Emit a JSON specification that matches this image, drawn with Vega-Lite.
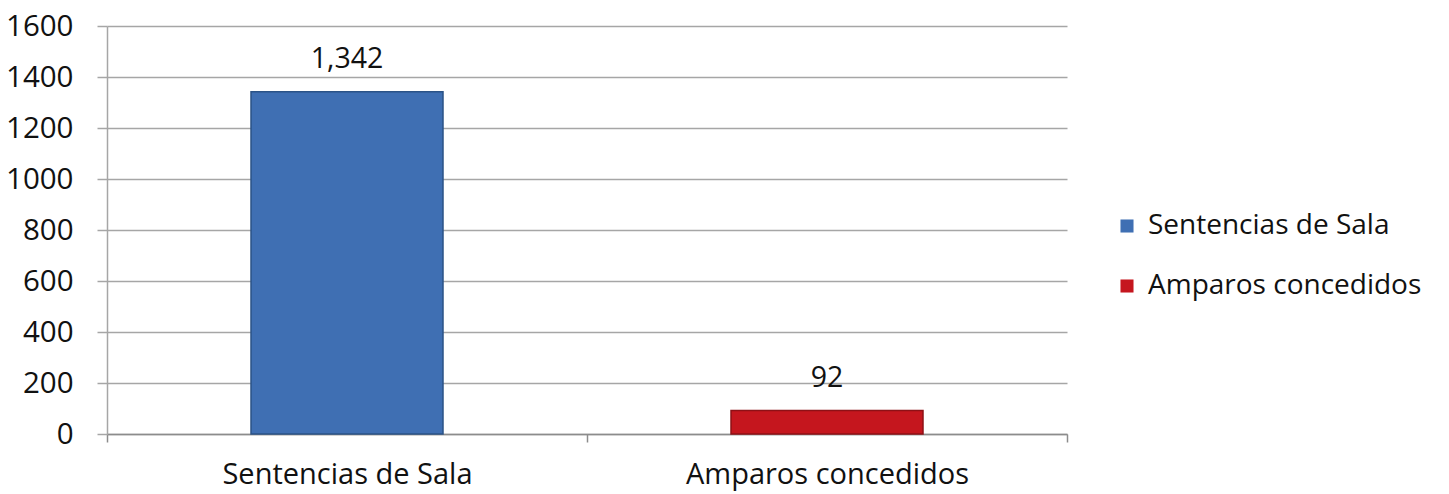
{
  "$schema": "https://vega.github.io/schema/vega-lite/v6.json",
  "autosize": {"type": "none"},
  "width": 960,
  "height": 408,
  "padding": {"left": 107, "top": 26, "right": 382, "bottom": 60},
  "background": "white",
  "data": {"values": [
    {"categoria": "Sentencias de Sala", "valor": 1342},
    {"categoria": "Amparos concedidos", "valor": 92}
  ]},
  "config": {
    "font": "Open Sans",
    "view": {"stroke": null}
  },
  "encoding": {
    "x": {
      "field": "categoria", "type": "nominal", "sort": ["Sentencias de Sala", "Amparos concedidos"],
      "scale": {"paddingInner": 0, "paddingOuter": 0},
      "axis": {"title": null, "labelAngle": 0, "labelFontSize": 29, "labelColor": "#111111", "labelPadding": 18, "labelLimit": 0,
        "tickBand": "extent", "tickSize": 8, "tickColor": "#8c8c8c", "domainColor": "#8c8c8c", "domainWidth": 1.5, "tickWidth": 1.5, "grid": false}
    },
    "y": {
      "field": "valor", "type": "quantitative",
      "scale": {"domain": [0, 1600]},
      "axis": {"title": null, "values": [0, 200, 400, 600, 800, 1000, 1200, 1400, 1600], "format": "d", "labelFontSize": 29.5, "labelColor": "#111111",
        "labelPadding": 24, "tickSize": 10, "tickColor": "#a6a6a6", "tickWidth": 1.5, "domainColor": "#a6a6a6", "domainWidth": 1.5,
        "grid": true, "gridColor": "#a6a6a6", "gridWidth": 1.5}
    }
  },
  "layer": [
    {
      "mark": {"type": "bar", "strokeWidth": 1.5, "width": {"band": 0.4}},
      "encoding": {
        "color": {
          "field": "categoria", "type": "nominal", "sort": ["Sentencias de Sala", "Amparos concedidos"],
          "scale": {"domain": ["Sentencias de Sala", "Amparos concedidos"], "range": ["#3F6FB3", "#C5161E"]},
          "legend": {"title": null, "orient": "none", "legendX": 1006, "legendY": 186, "labelFontSize": 28, "labelColor": "#111111", "labelLimit": 0,
            "symbolType": "square", "symbolSize": 170, "rowPadding": 32, "labelOffset": 7, "symbolStrokeWidth": 0}
        },
        "stroke": {
          "field": "categoria", "type": "nominal",
          "scale": {"domain": ["Sentencias de Sala", "Amparos concedidos"], "range": ["#2B5387", "#8E1016"]},
          "legend": null
        }
      }
    },
    {
      "mark": {"type": "text", "dy": -24, "baseline": "alphabetic", "fontSize": 28.5, "color": "#111111"},
      "encoding": {
        "text": {"field": "valor", "type": "quantitative", "format": ","}
      }
    }
  ]
}
